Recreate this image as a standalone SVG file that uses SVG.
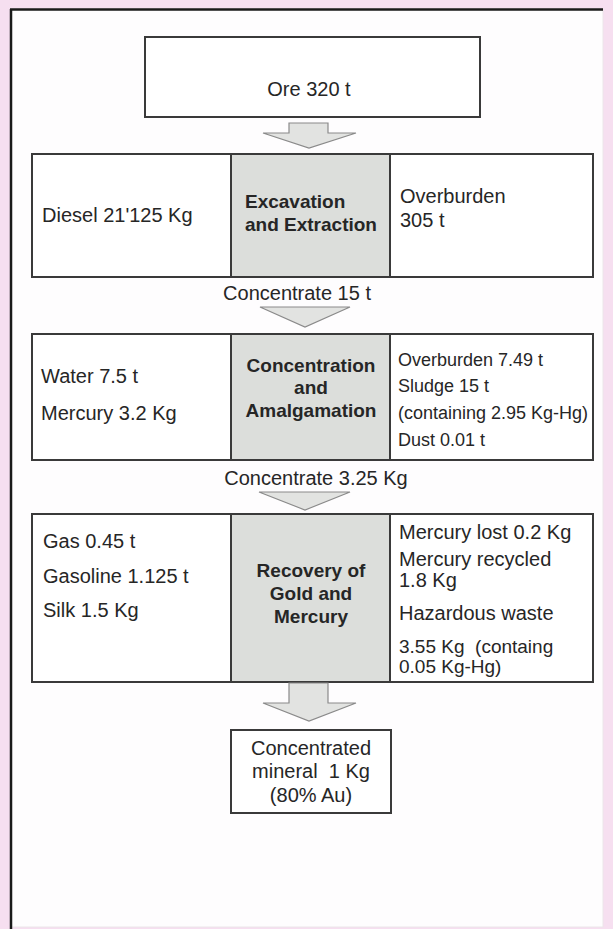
<svg xmlns="http://www.w3.org/2000/svg" width="613" height="929" viewBox="0 0 613 929">
<style>
.box{fill:#ffffff;stroke:#3a3a3a;stroke-width:2}
.proc{fill:#dcdedb;stroke:#3a3a3a;stroke-width:2}
.arrow{fill:#e2e3e1;stroke:#8a8a8a;stroke-width:1.2}
text{font-family:"Liberation Sans",Arial,sans-serif;font-size:20px;fill:#262626}
.b{font-weight:bold;font-size:19px}
.s{font-size:18px}
.t{font-size:19px}
.c{text-anchor:middle}
</style>
<rect x="0" y="0" width="613" height="929" fill="#f6dff0"/>
<rect x="11" y="9" width="592" height="918" fill="#fefdfe" stroke="#ece6ea" stroke-width="1"/>
<line x1="11" y1="9" x2="11" y2="929" stroke="#1a1a1a" stroke-width="2.5"/>
<line x1="10" y1="9.5" x2="603" y2="9.5" stroke="#1a1a1a" stroke-width="2.5"/>

<g id="ore">
<rect class="box" x="145" y="37" width="335" height="80"/>
<text class="c" x="309" y="96">Ore 320 t</text>
</g>

<g id="excavation">
<rect class="box" x="32" y="154" width="561" height="123"/>
<rect class="proc" x="231" y="154" width="159" height="123"/>
<text x="42" y="222">Diesel 21'125 Kg</text>
<text class="b" x="245" y="208">Excavation</text>
<text class="b" x="245" y="231">and Extraction</text>
<text x="400" y="203">Overburden</text>
<text x="400" y="227">305 t</text>
</g>

<g id="concentration">
<rect class="box" x="32" y="334" width="561" height="126"/>
<rect class="proc" x="231" y="334" width="159" height="126"/>
<text x="41" y="383">Water 7.5 t</text>
<text x="41" y="420">Mercury 3.2 Kg</text>
<text class="b c" x="311" y="372">Concentration</text>
<text class="b c" x="311" y="394">and</text>
<text class="b c" x="311" y="417">Amalgamation</text>
<text class="s" x="398" y="366">Overburden 7.49 t</text>
<text class="s" x="398" y="392">Sludge 15 t</text>
<text class="s" x="398" y="419">(containing 2.95 Kg-Hg)</text>
<text class="s" x="398" y="446">Dust 0.01 t</text>
</g>

<g id="recovery">
<rect class="box" x="32" y="514" width="561" height="168"/>
<rect class="proc" x="231" y="514" width="159" height="168"/>
<text x="43" y="548">Gas 0.45 t</text>
<text x="43" y="583">Gasoline 1.125 t</text>
<text x="43" y="617">Silk 1.5 Kg</text>
<text class="b c" x="311" y="577">Recovery of</text>
<text class="b c" x="311" y="600">Gold and</text>
<text class="b c" x="311" y="623">Mercury</text>
<text x="399" y="539">Mercury lost 0.2 Kg</text>
<text x="399" y="566">Mercury recycled</text>
<text x="399" y="587">1.8 Kg</text>
<text x="399" y="620">Hazardous waste</text>
<text class="t" x="399" y="653" xml:space="preserve">3.55 Kg  (containg</text>
<text class="t" x="399" y="673">0.05 Kg-Hg)</text>
</g>

<g id="product">
<rect class="box" x="231" y="730" width="160" height="83"/>
<text class="c" x="311" y="755">Concentrated</text>
<text class="c" x="311" y="778" xml:space="preserve">mineral  1 Kg</text>
<text class="c" x="311" y="802">(80% Au)</text>
</g>

<g id="connectors">
<polygon class="arrow" points="289,123 328,123 328,133 356,133 309,148 263,133 289,133"/>
<text class="c" x="297" y="300">Concentrate 15 t</text>
<polygon class="arrow" points="260,307 350,307 305,327"/>
<text class="c" x="316" y="485">Concentrate 3.25 Kg</text>
<polygon class="arrow" points="259,492 350,492 305,510"/>
<polygon class="arrow" points="289,683 328,683 328,703 356,703 309,721 263,703 289,703"/>
</g>
</svg>
